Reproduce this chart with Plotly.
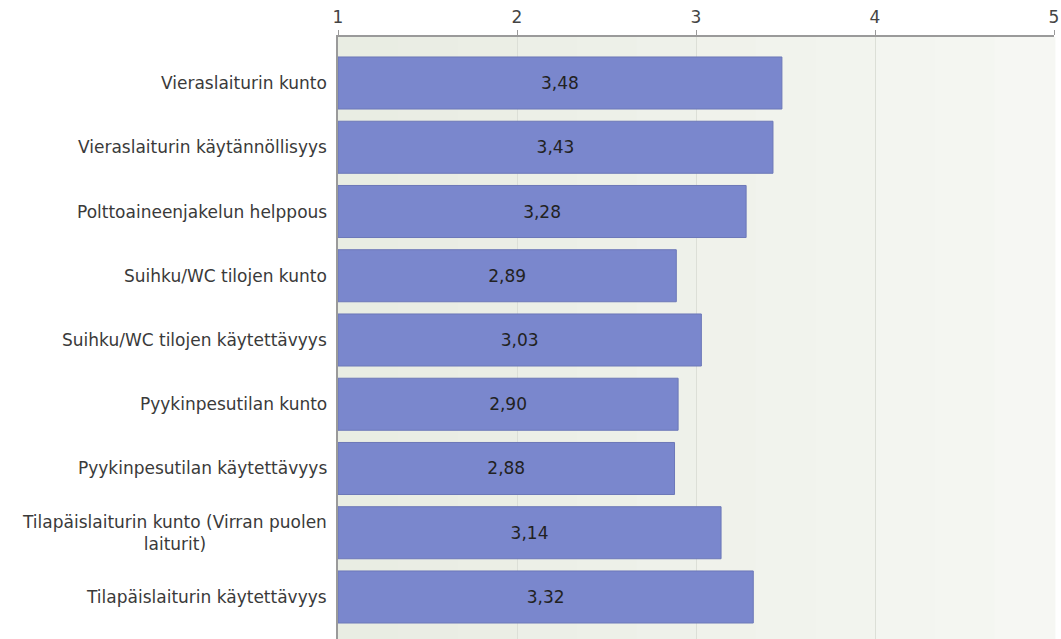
import plotly.graph_objects as go

categories = [
    "Vieraslaiturin kunto",
    "Vieraslaiturin käytännöllisyys",
    "Polttoaineenjakelun helppous",
    "Suihku/WC tilojen kunto",
    "Suihku/WC tilojen käytettävyys",
    "Pyykinpesutilan kunto",
    "Pyykinpesutilan käytettävyys",
    "Tilapäislaiturin kunto (Virran puolen<br>laiturit)",
    "Tilapäislaiturin käytettävyys",
]
values = [3.48, 3.43, 3.28, 2.89, 3.03, 2.90, 2.88, 3.14, 3.32]
x_ticks = [1, 2, 3, 4, 5]
scale_min = 1

FONT = "DejaVu Sans, Verdana, sans-serif"

fig = go.Figure()
fig.add_trace(go.Bar(
    x=[v - scale_min for v in values],
    base=scale_min,
    y=list(range(len(categories))),
    orientation="h",
    marker=dict(color="#7a87cd", line=dict(color="#6c78b8", width=1)),
    text=[f"{v:.2f}".replace(".", ",") for v in values],
    texttemplate="%{text}",
    textposition="inside",
    insidetextanchor="middle",
    textfont=dict(family=FONT, size=17, color="#222222"),
    hoverinfo="skip",
))

# subtle horizontal background gradient in the plot area
n = 12
shapes = []
for i in range(n):
    t = i / (n - 1)
    r = int(0xe9 + (0xf6 - 0xe9) * t)
    g = int(0xed + (0xf7 - 0xed) * t)
    b = int(0xe3 + (0xf3 - 0xe3) * t)
    shapes.append(dict(type="rect", xref="paper", yref="paper",
                       x0=i / n, x1=(i + 1) / n + 0.002, y0=0, y1=1,
                       fillcolor=f"rgb({r},{g},{b})", line=dict(width=0),
                       layer="below"))

annotations = []
for i, c in enumerate(categories):
    annotations.append(dict(
        x=0, xref="paper", y=i, yref="y", text=c, showarrow=False,
        xanchor="right", xshift=-9, align="center",
        font=dict(family=FONT, size=17, color="#3a3a3a"),
    ))

fig.update_layout(
    width=1061, height=639,
    margin=dict(l=338, r=7, t=37, b=0),
    paper_bgcolor="white",
    plot_bgcolor="rgba(0,0,0,0)",
    bargap=0.19,
    showlegend=False,
    shapes=shapes,
    annotations=annotations,
    xaxis=dict(
        side="top", range=[1, 5], tickvals=x_ticks,
        ticktext=[str(v) for v in x_ticks],
        tickfont=dict(family=FONT, size=17, color="#444444"),
        showgrid=True, gridcolor="#dcdfd7", gridwidth=1,
        showline=True, linecolor="#9a9a9a", linewidth=2,
        ticks="outside", ticklen=5, tickcolor="#9a9a9a",
        zeroline=False, fixedrange=True,
    ),
    yaxis=dict(
        range=[8.654, -0.716], showticklabels=False,
        showgrid=False, zeroline=False,
        showline=True, linecolor="#9a9a9a", linewidth=2,
        ticks="", fixedrange=True,
    ),
)

fig.write_html("out.html", config={"displayModeBar": False})
